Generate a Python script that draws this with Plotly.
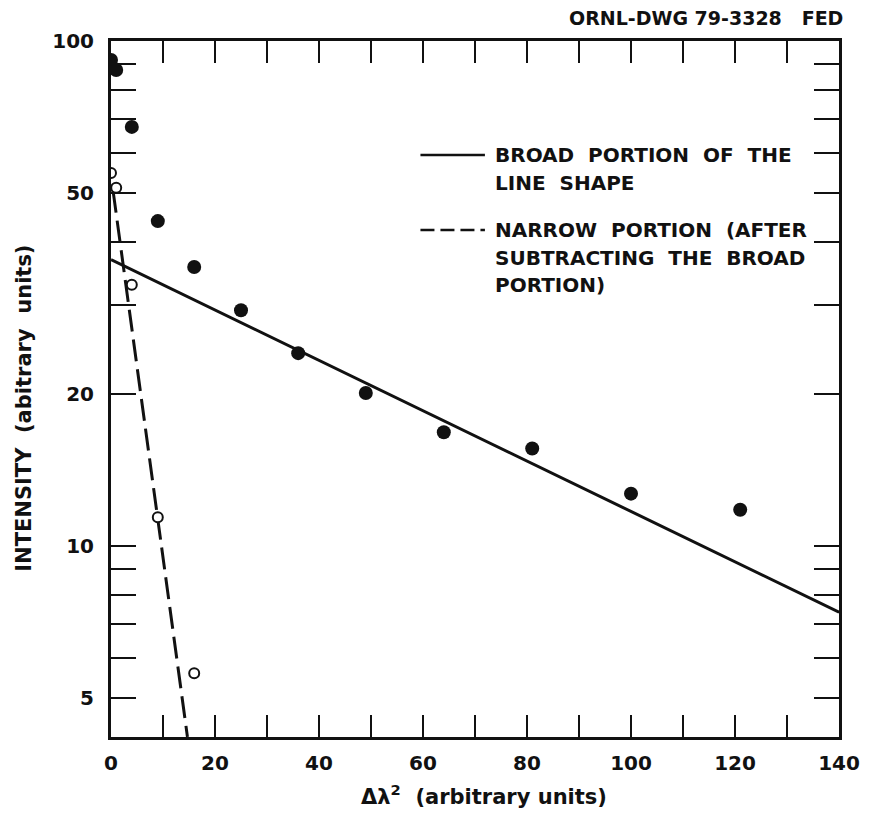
import plotly.graph_objects as go

# Data
broad_x = [0, 1, 4, 9, 16, 25, 36, 49, 64, 81, 100, 121]
broad_y = [91.7, 87.6, 67.6, 44.0, 35.7, 29.3, 24.1, 20.1, 16.8, 15.6, 12.7, 11.8]
narrow_x = [0, 1, 4, 9, 16]
narrow_y = [54.8, 51.2, 32.9, 11.4, 5.6]
broad_fit_x = [0, 140]
broad_fit_y = [36.9, 7.4]
narrow_fit_x = [0.4, 14.7]
narrow_fit_y = [50.5, 4.19]

x_major = [0, 20, 40, 60, 80, 100, 120, 140]
x_minor = [10, 30, 50, 70, 90, 110, 130]
y_major = [5, 10, 20, 50, 100]
y_minor = [6, 7, 8, 9, 30, 40, 60, 70, 80, 90]

FONT = "DejaVu Sans"
INK = "#111111"

fig = go.Figure()
fig.add_trace(go.Scatter(x=broad_fit_x, y=broad_fit_y, mode="lines",
                         line=dict(color=INK, width=3), showlegend=False))
fig.add_trace(go.Scatter(x=narrow_fit_x, y=narrow_fit_y, mode="lines",
                         line=dict(color=INK, width=3, dash="22px,8px"), showlegend=False))
fig.add_trace(go.Scatter(x=broad_x, y=broad_y, mode="markers",
                         marker=dict(color=INK, size=14, line=dict(width=0)), showlegend=False))
fig.add_trace(go.Scatter(x=narrow_x, y=narrow_y, mode="markers",
                         marker=dict(color="white", size=10, line=dict(color=INK, width=2)),
                         showlegend=False))

fig.update_layout(
    width=872, height=815,
    margin=dict(l=111, r=27, t=41, b=78),
    paper_bgcolor="white", plot_bgcolor="white",
    font=dict(family=FONT, color=INK),
    xaxis=dict(range=[0, 140], tickmode="array", tickvals=x_major,
               ticks="inside", ticklen=22, tickwidth=2, tickcolor=INK,
               minor=dict(tickmode="array", tickvals=x_minor, ticks="inside",
                          ticklen=22, tickwidth=2, tickcolor=INK, showgrid=False),
               showline=True, linewidth=3, linecolor=INK, mirror="allticks",
               showgrid=False, zeroline=False, ticklabelstandoff=6,
               tickfont=dict(size=20, family=FONT, weight="bold")),
    yaxis=dict(type="log", range=[0.622, 2.0], tickmode="array", tickvals=y_major,
               ticks="inside", ticklen=25, tickwidth=2, tickcolor=INK,
               minor=dict(tickmode="array", tickvals=y_minor, ticks="inside",
                          ticklen=25, tickwidth=2, tickcolor=INK, showgrid=False),
               showline=True, linewidth=3, linecolor=INK, mirror="allticks",
               showgrid=False, zeroline=False, ticklabelstandoff=10,
               tickfont=dict(size=20, family=FONT, weight="bold")),
)

def px_x(p):
    return (p - 111) / (845 - 111)

def px_y(p):
    return 1 - (p - 41) / (737 - 41)

# Axis titles
fig.add_annotation(text="Δλ<sup>2</sup>  (arbitrary units)", xref="paper", yref="paper",
                   x=px_x(487), y=px_y(795), xanchor="center", yanchor="middle",
                   showarrow=False,
                   font=dict(size=21, family=FONT, weight="bold", color=INK))
fig.add_annotation(text="INTENSITY  (abitrary  units)", xref="paper", yref="paper",
                   x=px_x(23), y=px_y(408), xanchor="center", yanchor="middle",
                   textangle=-90, showarrow=False,
                   font=dict(size=21, family=FONT, weight="bold", color=INK))

# Legend (line samples + labels)
fig.add_shape(type="line", xref="paper", yref="paper",
              x0=px_x(423), x1=px_x(488), y0=px_y(155), y1=px_y(155),
              line=dict(color=INK, width=2.5))
fig.add_shape(type="line", xref="paper", yref="paper",
              x0=px_x(423), x1=px_x(488), y0=px_y(230), y1=px_y(230),
              line=dict(color=INK, width=2.5, dash="14px,6px"))

legend_lines = [
    ("BROAD  PORTION  OF  THE", 155),
    ("LINE  SHAPE", 183),
    ("NARROW  PORTION  (AFTER", 230),
    ("SUBTRACTING  THE  BROAD", 258),
    ("PORTION)", 285),
]
for txt, yy in legend_lines:
    fig.add_annotation(text=txt, xref="paper", yref="paper", x=px_x(496), y=px_y(yy),
                       xanchor="left", yanchor="middle", showarrow=False,
                       font=dict(size=20, family=FONT, weight="bold", color=INK))

fig.add_annotation(text="ORNL-DWG 79-3328   FED", xref="paper", yref="paper",
                   x=px_x(851), y=px_y(18), xanchor="right", yanchor="middle",
                   showarrow=False,
                   font=dict(size=19, family=FONT, weight="bold", color=INK))

fig.write_html("out.html")
